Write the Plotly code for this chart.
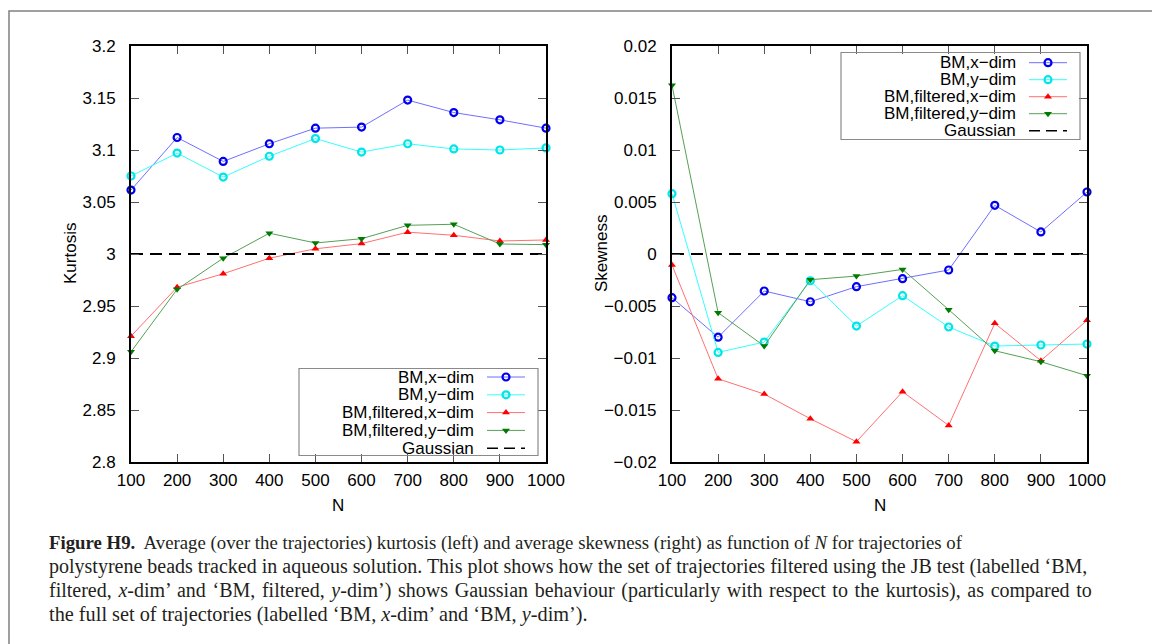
import plotly.graph_objects as go

# ---------------- data ----------------
N = [100, 200, 300, 400, 500, 600, 700, 800, 900, 1000]

kurt_bm_x = [3.0615, 3.112, 3.089, 3.106, 3.121, 3.122, 3.148, 3.136, 3.129, 3.121]
kurt_bm_y = [3.075, 3.097, 3.074, 3.094, 3.111, 3.098, 3.106, 3.101, 3.100, 3.102]
kurt_f_x = [2.921, 2.968, 2.981, 2.996, 3.005, 3.010, 3.021, 3.018, 3.0125, 3.0135]
kurt_f_y = [2.906, 2.966, 2.996, 3.020, 3.0106, 3.0147, 3.0276, 3.0286, 3.0096, 3.009]
kurt_gauss = 3.0

skew_bm_x = [-0.0042, -0.0080, -0.00356, -0.00459, -0.00314, -0.00237, -0.00154, 0.00468, 0.00212, 0.00596]
skew_bm_y = [0.0058, -0.00946, -0.00847, -0.00257, -0.00693, -0.00401, -0.00702, -0.00885, -0.00875, -0.00866]
skew_f_x = [-0.00106, -0.0120, -0.01347, -0.01584, -0.01805, -0.01324, -0.01648, -0.00667, -0.01026, -0.00638]
skew_f_y = [0.01623, -0.00564, -0.00885, -0.00247, -0.00212, -0.00148, -0.00535, -0.0093, -0.01036, -0.0117]
skew_gauss = 0.0

x_ticks = [100, 200, 300, 400, 500, 600, 700, 800, 900, 1000]
kurt_ticks = [2.8, 2.85, 2.9, 2.95, 3.0, 3.05, 3.1, 3.15, 3.2]
kurt_ticktext = ["2.8", "2.85", "2.9", "2.95", "3", "3.05", "3.1", "3.15", "3.2"]
skew_ticks = [-0.02, -0.015, -0.01, -0.005, 0.0, 0.005, 0.01, 0.015, 0.02]
skew_ticktext = ["\u22120.02", "\u22120.015", "\u22120.01", "\u22120.005", "0", "0.005", "0.01", "0.015", "0.02"]

series_names = ["BM,x\u2212dim", "BM,y\u2212dim", "BM,filtered,x\u2212dim", "BM,filtered,y\u2212dim", "Gaussian"]

# ---------------- styles ----------------
W, H = 1152, 644
SANS = "Liberation Sans, Arial, sans-serif"
SERIF = "Liberation Serif, Times New Roman, serif"
styles = [
    dict(line=dict(color="#6f6fff", width=1), marker=dict(symbol="circle-open", size=7, color="#0000ee", line=dict(width=2.2, color="#0000ee"))),
    dict(line=dict(color="#33ffff", width=1), marker=dict(symbol="circle-open", size=7, color="#00e5e5", line=dict(width=2.2, color="#00e5e5"))),
    dict(line=dict(color="#ff7070", width=1), marker=dict(symbol="triangle-up", size=7, color="#ff0000")),
    dict(line=dict(color="#55a055", width=1), marker=dict(symbol="triangle-down", size=7, color="#007a00")),
]
gauss_line = dict(color="black", width=2, dash="12px,7px")

fig = go.Figure()

def add_panel(xa, ya, ys, g):
    for s, st in zip(ys, styles):
        fig.add_trace(go.Scatter(x=N, y=s, mode="lines+markers", xaxis=xa, yaxis=ya, cliponaxis=False,
                                 line=st["line"], marker=st["marker"], showlegend=False, hoverinfo="skip"))
    fig.add_trace(go.Scatter(x=[N[0], N[-1]], y=[g, g], mode="lines", xaxis=xa, yaxis=ya,
                             line=gauss_line, showlegend=False, hoverinfo="skip"))

add_panel("x", "y", [kurt_bm_x, kurt_bm_y, kurt_f_x, kurt_f_y], kurt_gauss)
add_panel("x2", "y2", [skew_bm_x, skew_bm_y, skew_f_x, skew_f_y], skew_gauss)

# ---------------- legends (pixel overlay) ----------------
def legend(box_x0, box_y0, row0, dy):
    shapes = [dict(type="rect", xref="x3", yref="y3", x0=box_x0, y0=box_y0, x1=box_x0 + 239, y1=box_y0 + 87,
                   line=dict(color="#8a8a8a", width=1.2), layer="above")]
    anns = []
    tx = box_x0 + 177
    sx0, sx1 = box_x0 + 188, box_x0 + 226
    for i, name in enumerate(series_names):
        yy = row0 + i * dy
        anns.append(dict(xref="x3", yref="y3", x=tx, y=yy, text=name, showarrow=False, xanchor="right",
                         yanchor="middle", font=dict(family=SANS, size=17, color="black")))
        if i < 4:
            st = styles[i]
            fig.add_trace(go.Scatter(x=[sx0, sx1], y=[yy, yy], mode="lines", xaxis="x3", yaxis="y3",
                                     line=st["line"], showlegend=False, hoverinfo="skip"))
            fig.add_trace(go.Scatter(x=[(sx0 + sx1) / 2], y=[yy], mode="markers", xaxis="x3", yaxis="y3",
                                     marker=st["marker"], showlegend=False, hoverinfo="skip"))
        else:
            fig.add_trace(go.Scatter(x=[sx0, sx1], y=[yy, yy], mode="lines", xaxis="x3", yaxis="y3",
                                     line=dict(color="black", width=1.5, dash="11px,6px"), showlegend=False, hoverinfo="skip"))
    return shapes, anns

sh1, an1 = legend(299, 368.5, 377, 17.8)
sh2, an2 = legend(841, 52.5, 62.7, 17.0)

# ---------------- axes ----------------
x_l = (131 / W, 546 / W)
x_r = (672 / W, 1087 / W)
y_d = ((H - 462) / H, (H - 46) / H)

common = dict(showline=True, linecolor="black", linewidth=2, mirror="ticks", ticks="inside", ticklen=8,
              tickcolor="#555", tickwidth=1, showgrid=False, zeroline=False, automargin=False,
              tickfont=dict(family=SANS, size=17, color="black"))

fig.update_layout(
    width=W, height=H, margin=dict(l=0, r=0, t=0, b=0, pad=0, autoexpand=False),
    paper_bgcolor="white", plot_bgcolor="rgba(0,0,0,0)",
    xaxis=dict(domain=x_l, range=[100, 1000], tickvals=x_ticks, anchor="y", ticklabelstandoff=2, **common),
    yaxis=dict(domain=y_d, range=[2.8, 3.2], tickvals=kurt_ticks, ticktext=kurt_ticktext, anchor="x", ticklabelstandoff=10, **common),
    xaxis2=dict(domain=x_r, range=[100, 1000], tickvals=x_ticks, anchor="y2", ticklabelstandoff=2, **common),
    yaxis2=dict(domain=y_d, range=[-0.02, 0.02], tickvals=skew_ticks, ticktext=skew_ticktext, anchor="x2", ticklabelstandoff=10, **common),
    xaxis3=dict(domain=[0, 1], range=[0, W], visible=False, fixedrange=True, anchor="y3", automargin=False),
    yaxis3=dict(domain=[0, 1], range=[H, 0], visible=False, fixedrange=True, anchor="x3", automargin=False),
    showlegend=False,
)

# ---------------- frame, titles, caption ----------------
shapes = [dict(type="rect", xref="x3", yref="y3", x0=9, y0=11, x1=W + 20, y1=H + 20,
               line=dict(color="#808080", width=1.5), layer="below")]
shapes += sh1 + sh2

anns = an1 + an2
anns += [
    dict(xref="x3", yref="y3", x=338, y=505, text="N", showarrow=False, font=dict(family=SANS, size=17, color="black")),
    dict(xref="x3", yref="y3", x=880, y=505, text="N", showarrow=False, font=dict(family=SANS, size=17, color="black")),
    dict(xref="x3", yref="y3", x=70, y=254, text="Kurtosis", textangle=-90, showarrow=False, font=dict(family=SANS, size=17, color="black")),
    dict(xref="x3", yref="y3", x=601, y=254, text="Skewness", textangle=-90, showarrow=False, font=dict(family=SANS, size=17, color="black")),
]
WS = " \u200a"  # slightly wider word space to mimic justified lines
caption = [
    ("<b>Figure H9.</b>  Average (over the trajectories) kurtosis (left) and average skewness (right) as function of <i>N</i> for trajectories of", 18.8),
    ("polystyrene beads tracked in aqueous solution. This plot shows how the set of trajectories filtered using the JB test (labelled \u2018BM,", 20),
    ("filtered, <i>x</i>-dim\u2019 and \u2018BM, filtered, <i>y</i>-dim\u2019) shows Gaussian behaviour (particularly with respect to the kurtosis), as compared to".replace(" ", WS), 20),
    ("the full set of trajectories (labelled \u2018BM, <i>x</i>-dim\u2019 and \u2018BM, <i>y</i>-dim\u2019).", 20.3),
]
for i, (line, fs) in enumerate(caption):
    anns.append(dict(xref="x3", yref="y3", x=47, y=543 + i * 23.7, text=line, showarrow=False, xanchor="left",
                     yanchor="middle", font=dict(family=SERIF, size=fs, color="#231f20")))

fig.update_layout(shapes=shapes, annotations=anns)
fig.write_html("out.html")
